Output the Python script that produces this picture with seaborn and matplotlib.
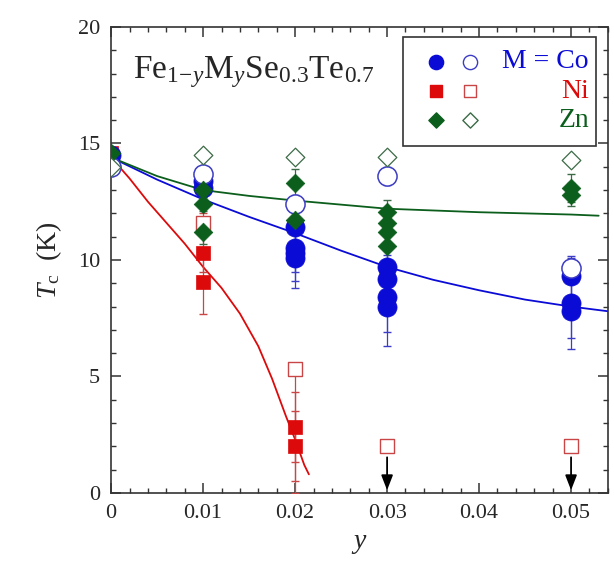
import numpy as np
import pandas as pd
import matplotlib
matplotlib.use('Agg')
import matplotlib.pyplot as plt
import seaborn as sns
from matplotlib.patches import Rectangle
from matplotlib.ticker import MultipleLocator, FixedLocator, FixedFormatter

# %% data
# Co (filled = one set of samples, open = the other)
co_x = [0, 0.01, 0.01, 0.02, 0.02, 0.02, 0.02, 0.03, 0.03, 0.03, 0.03, 0.05, 0.05, 0.05]
co_tc = [14.5, 13.4, 13.1, 11.4, 10.5, 10.3, 10.1, 9.7, 9.2, 8.4, 8.0, 9.3, 8.15, 7.8]
co_err = [0.2, 0.3, 0.3, 0.9, 1.0, 1.2, 1.3, 0.8, 1.0, 1.5, 1.7, 0.8, 1.5, 1.6]
co_open_x = [0, 0.01, 0.02, 0.03, 0.05]
co_open_tc = [14.0, 13.7, 12.4, 13.6, 9.65]
co_open_err = [0.2, 0.3, 0.4, 0.4, 0.5]

# Ni
ni_x = [0, 0.01, 0.01, 0.02, 0.02]
ni_tc = [14.6, 10.3, 9.05, 2.85, 2.0]
ni_err = [0.2, 0.8, 1.35, 1.5, 1.5]
ni_open_x = [0, 0.01, 0.02, 0.03, 0.05]
ni_open_tc = [14.1, 11.6, 5.3, 2.0, 2.0]
ni_open_lo = [0.2, 0.4, 5.3, 0.0, 0.0]
ni_open_hi = [0.2, 0.4, 0.0, 0.0, 0.0]

# Zn
zn_x = [0, 0.01, 0.01, 0.01, 0.02, 0.02, 0.03, 0.03, 0.03, 0.03, 0.05, 0.05]
zn_tc = [14.6, 13.0, 12.4, 11.2, 13.3, 11.7, 12.06, 11.6, 11.2, 10.6, 13.1, 12.8]
zn_err = [0.2, 0.3, 0.3, 0.5, 0.6, 0.6, 0.5, 0.5, 0.6, 0.6, 0.6, 0.5]
zn_open_x = [0, 0.01, 0.02, 0.03, 0.05]
zn_open_tc = [14.0, 14.5, 14.4, 14.4, 14.3]

# upper limits (no transition seen down to 2 K)
limit_x = [0.03, 0.05]
limit_tc = [2.0, 2.0]

# guide curves, read at a few y
co_fit_x = [0, 0.005, 0.01, 0.015, 0.02, 0.025, 0.03, 0.035, 0.04, 0.045, 0.05, 0.054]
co_fit_tc = [14.4, 13.45, 12.6, 11.85, 11.15, 10.4, 9.7, 9.15, 8.7, 8.3, 8.0, 7.8]
ni_fit_x = [0, 0.002, 0.004, 0.006, 0.008, 0.01, 0.012, 0.014, 0.016, 0.0175, 0.019, 0.02, 0.021, 0.0215]
ni_fit_tc = [14.4, 13.5, 12.5, 11.6, 10.7, 9.7, 8.8, 7.7, 6.3, 4.9, 3.3, 2.3, 1.2, 0.8]
zn_fit_x = [0, 0.005, 0.01, 0.015, 0.02, 0.03, 0.04, 0.05, 0.053]
zn_fit_tc = [14.4, 13.6, 13.0, 12.75, 12.55, 12.2, 12.05, 11.95, 11.9]

xtick_vals = [0, 0.01, 0.02, 0.03, 0.04, 0.05]
xtick_labels = ['0', '0.01', '0.02', '0.03', '0.04', '0.05']
ytick_vals = [0, 5, 10, 15, 20]

# %% style
sns.set_style('ticks')
plt.rcParams['font.family'] = ['Liberation Serif', 'DejaVu Serif']
plt.rcParams['mathtext.fontset'] = 'custom'
plt.rcParams['mathtext.rm'] = 'Liberation Serif'
plt.rcParams['mathtext.it'] = 'Liberation Serif:italic'

BLUE = '#0b0bd6'
RED = '#dc0a0a'
GREEN = '#0b5e1c'
BLUE_O = '#3c3cc4'
RED_O = '#c84646'
GREEN_O = '#3c6a46'

fig = plt.figure(figsize=(6.14, 5.69), dpi=100)
ax = fig.add_axes([0.181, 0.1336, 0.809, 0.819])

# %% curves
for fx, fy, c in [(co_fit_x, co_fit_tc, BLUE), (zn_fit_x, zn_fit_tc, GREEN), (ni_fit_x, ni_fit_tc, RED)]:
    sns.lineplot(x=fx, y=fy, ax=ax, color=c, lw=1.3, estimator=None, sort=False, zorder=2)

# %% error bars
ax.errorbar(co_x, co_tc, yerr=co_err, fmt='none', ecolor=BLUE_O, elinewidth=0.9, capsize=3, zorder=3)
ax.errorbar(co_open_x, co_open_tc, yerr=co_open_err, fmt='none', ecolor=BLUE_O, elinewidth=0.9, capsize=3, zorder=3)
ax.errorbar(ni_x, ni_tc, yerr=ni_err, fmt='none', ecolor=RED_O, elinewidth=0.9, capsize=3, zorder=3)
ax.errorbar(ni_open_x, ni_open_tc, yerr=[ni_open_lo, ni_open_hi], fmt='none', ecolor=RED_O,
            elinewidth=0.9, capsize=3, zorder=3)
ax.errorbar(zn_x, zn_tc, yerr=zn_err, fmt='none', ecolor=GREEN_O, elinewidth=0.9, capsize=3, zorder=3)

# %% points
sns.scatterplot(x=ni_x, y=ni_tc, ax=ax, marker='s', s=110, color=RED, edgecolor=RED, linewidth=0.5, zorder=4)
sns.scatterplot(x=ni_open_x, y=ni_open_tc, ax=ax, marker='s', s=110, facecolor='white', edgecolor=RED_O,
                linewidth=1.0, zorder=4)
sns.scatterplot(x=co_x, y=co_tc, ax=ax, marker='o', s=190, color=BLUE, edgecolor=BLUE, linewidth=0.5, zorder=5)
sns.scatterplot(x=co_open_x, y=co_open_tc, ax=ax, marker='o', s=190, facecolor='white', edgecolor=BLUE_O,
                linewidth=1.1, zorder=5)
sns.scatterplot(x=zn_x, y=zn_tc, ax=ax, marker='D', s=90, color=GREEN, edgecolor=GREEN, linewidth=0.5, zorder=6)
sns.scatterplot(x=zn_open_x, y=zn_open_tc, ax=ax, marker='D', s=90, facecolor='white', edgecolor=GREEN_O,
                linewidth=0.9, zorder=6)

# arrows for upper limits
for lx, ly in zip(limit_x, limit_tc):
    ax.annotate('', xy=(lx, 0.0), xytext=(lx, ly - 0.35),
                arrowprops=dict(arrowstyle='-|>,head_length=0.9,head_width=0.35', color='black', lw=1.3),
                zorder=7)

# %% axes
ax.set_xlim(0, 0.054)
ax.set_ylim(0, 20)
ax.xaxis.set_major_locator(FixedLocator(xtick_vals))
ax.xaxis.set_major_formatter(FixedFormatter(xtick_labels))
ax.xaxis.set_minor_locator(MultipleLocator(0.002))
ax.yaxis.set_major_locator(FixedLocator(ytick_vals))
ax.yaxis.set_minor_locator(MultipleLocator(1))
ax.tick_params(which='both', direction='in', top=True, right=True, labelsize=16, color='#333333')
ax.tick_params(which='major', length=7, width=1.1, pad=8)
ax.tick_params(which='minor', length=3.5, width=1.0)
for sp in ax.spines.values():
    sp.set_linewidth(1.2)
    sp.set_color('#333333')

ax.set_xlabel('$y$', fontsize=20, labelpad=6)
ax.set_ylabel(r'$T_{\rm c}$  (K)', fontsize=20, labelpad=10)

ax.text(0.045, 0.89, r'$\mathrm{Fe}_{\mathrm{1\!-\!}y}\mathrm{M}_{y}\mathrm{Se}_{0.3}\mathrm{Te}_{0.7}$',
        transform=ax.transAxes, fontsize=24, ha='left', va='baseline')

# legend box drawn by hand (right-aligned coloured labels)
ax.add_patch(Rectangle((0.587, 0.745), 0.39, 0.233, transform=ax.transAxes, fill=True,
                       facecolor='white', edgecolor='#333333', lw=1.2, zorder=8))
leg_rows = [('o', BLUE, BLUE_O, 'M = Co', 0.925, 105), ('s', RED, RED_O, 'Ni', 0.862, 75),
            ('D', GREEN, GREEN_O, 'Zn', 0.800, 60)]
for mk, fc, oc, lab, yy, sz in leg_rows:
    ax.scatter([0.654], [yy], transform=ax.transAxes, marker=mk, s=sz, color=fc, zorder=9, clip_on=False)
    ax.scatter([0.722], [yy], transform=ax.transAxes, marker=mk, s=sz, facecolor='white', edgecolor=oc,
               linewidth=1.0, zorder=9, clip_on=False)
    ax.text(0.962, yy, lab, transform=ax.transAxes, ha='right', va='center', fontsize=20, color=fc, zorder=9)

fig.savefig('out.png', dpi=100)
